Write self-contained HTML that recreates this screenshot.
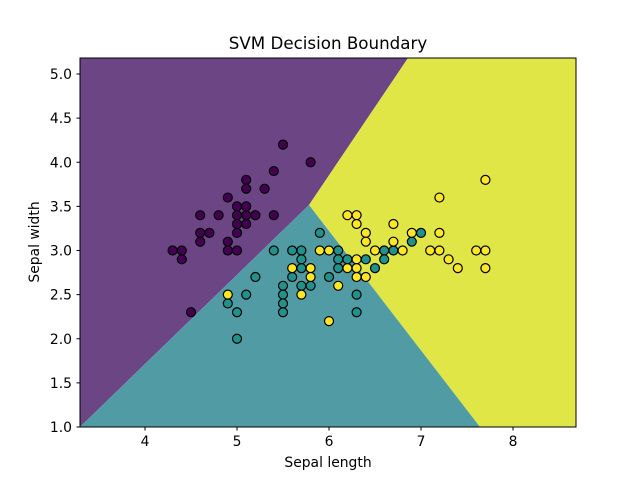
<!DOCTYPE html>
<html><head><meta charset="utf-8"><style>
html,body{margin:0;padding:0;background:#fff;}
svg{display:block;font-family:"DejaVu Sans","Liberation Sans",sans-serif;}
</style></head><body>
<svg id="s" width="640" height="480" viewBox="0 0 640 480" xmlns="http://www.w3.org/2000/svg">
<rect width="640" height="480" fill="#fff"/>
<polygon points="80,58 408,58 309,205 80,427" fill="#6b4584"/>
<polygon points="408,58 576,58 576,427 480,427 309,205" fill="#dfe646"/>
<polygon points="80,427 309,205 480,427" fill="#519ca4"/>
<g id="pts" stroke="#000" stroke-width="1.2"></g>
<rect x="80" y="58" width="496" height="369" fill="none" stroke="#000" stroke-width="1"/>
<g id="ax" font-size="13.9" fill="#000"></g>
<text x="328" y="49" text-anchor="middle" font-size="16.7">SVM Decision Boundary</text>
<text x="328" y="467" text-anchor="middle" font-size="13.9">Sepal length</text>
<text x="39" y="242" text-anchor="middle" font-size="13.9" transform="rotate(-90 39 242)">Sepal width</text>
</svg>
<script>
var X=function(x){return 145+(x-4)*92;},Y=function(y){return 427-(y-1)*88.25;};
var P="5.5,4.2 5.8,4 5.4,3.9 5.1,3.8 5.1,3.7 5.3,3.7 4.9,3.6 5,3.5 5.1,3.5 4.6,3.4 4.8,3.4 5,3.4 5.1,3.4 5.2,3.4 5.4,3.4 5,3.3 5.1,3.3 4.6,3.2 4.7,3.2 5,3.2 4.6,3.1 4.9,3.1 4.3,3 4.4,3 4.9,3 5,3 4.4,2.9 4.5,2.3";
var T="5.9,3.2 5.4,3 5.6,3 5.7,3 6.1,3 5.7,2.9 6.1,2.9 6.2,2.9 5.7,2.8 6.1,2.8 5.2,2.7 5.6,2.7 6,2.7 5.5,2.6 5.7,2.6 5.8,2.6 5.1,2.5 5.5,2.5 6.3,2.5 4.9,2.4 5.5,2.4 5,2.3 5.5,2.3 6.3,2.3 5,2 7,3.2 6.9,3.1 6.6,3 6.7,3 6.4,2.9 6.6,2.9 6.5,2.8";
var Yl="5.9,3 6,3 6.3,2.9 5.6,2.8 5.8,2.8 6.2,2.8 6.3,2.8 5.8,2.7 6.3,2.7 6.4,2.7 6.1,2.6 4.9,2.5 5.7,2.5 6,2.2 6.2,3.4 6.3,3.4 6.3,3.3 6.7,3.3 6.4,3.2 6.9,3.2 7.2,3.2 6.4,3.1 6.7,3.1 6.5,3 6.8,3 7.1,3 7.2,3 7.6,3 7.7,3 7.3,2.9 7.4,2.8 7.7,2.8 7.7,3.8 7.2,3.6";
var g=document.getElementById('pts'),h='';
[[P,'#440154'],[T,'#21918c'],[Yl,'#fde725']].forEach(function(a){a[0].split(' ').forEach(function(p){var q=p.split(',');h+='<circle cx="'+X(+q[0])+'" cy="'+Y(+q[1])+'" r="4.5" fill="'+a[1]+'"/>';});});
g.innerHTML=h;
var ax='';
for(var i=4;i<=8;i++){var x=X(i);ax+='<line x1="'+x+'" y1="427" x2="'+x+'" y2="430.5" stroke="#000"/><text x="'+x+'" y="446" text-anchor="middle">'+i+'</text>';}
for(var j=0;j<=8;j++){var v=1+j*0.5,y=Y(v);ax+='<line x1="76.5" y1="'+y+'" x2="80" y2="'+y+'" stroke="#000"/><text x="72" y="'+(y+5)+'" text-anchor="end">'+v.toFixed(1)+'</text>';}
document.getElementById('ax').innerHTML=ax;
</script>
</body></html>
